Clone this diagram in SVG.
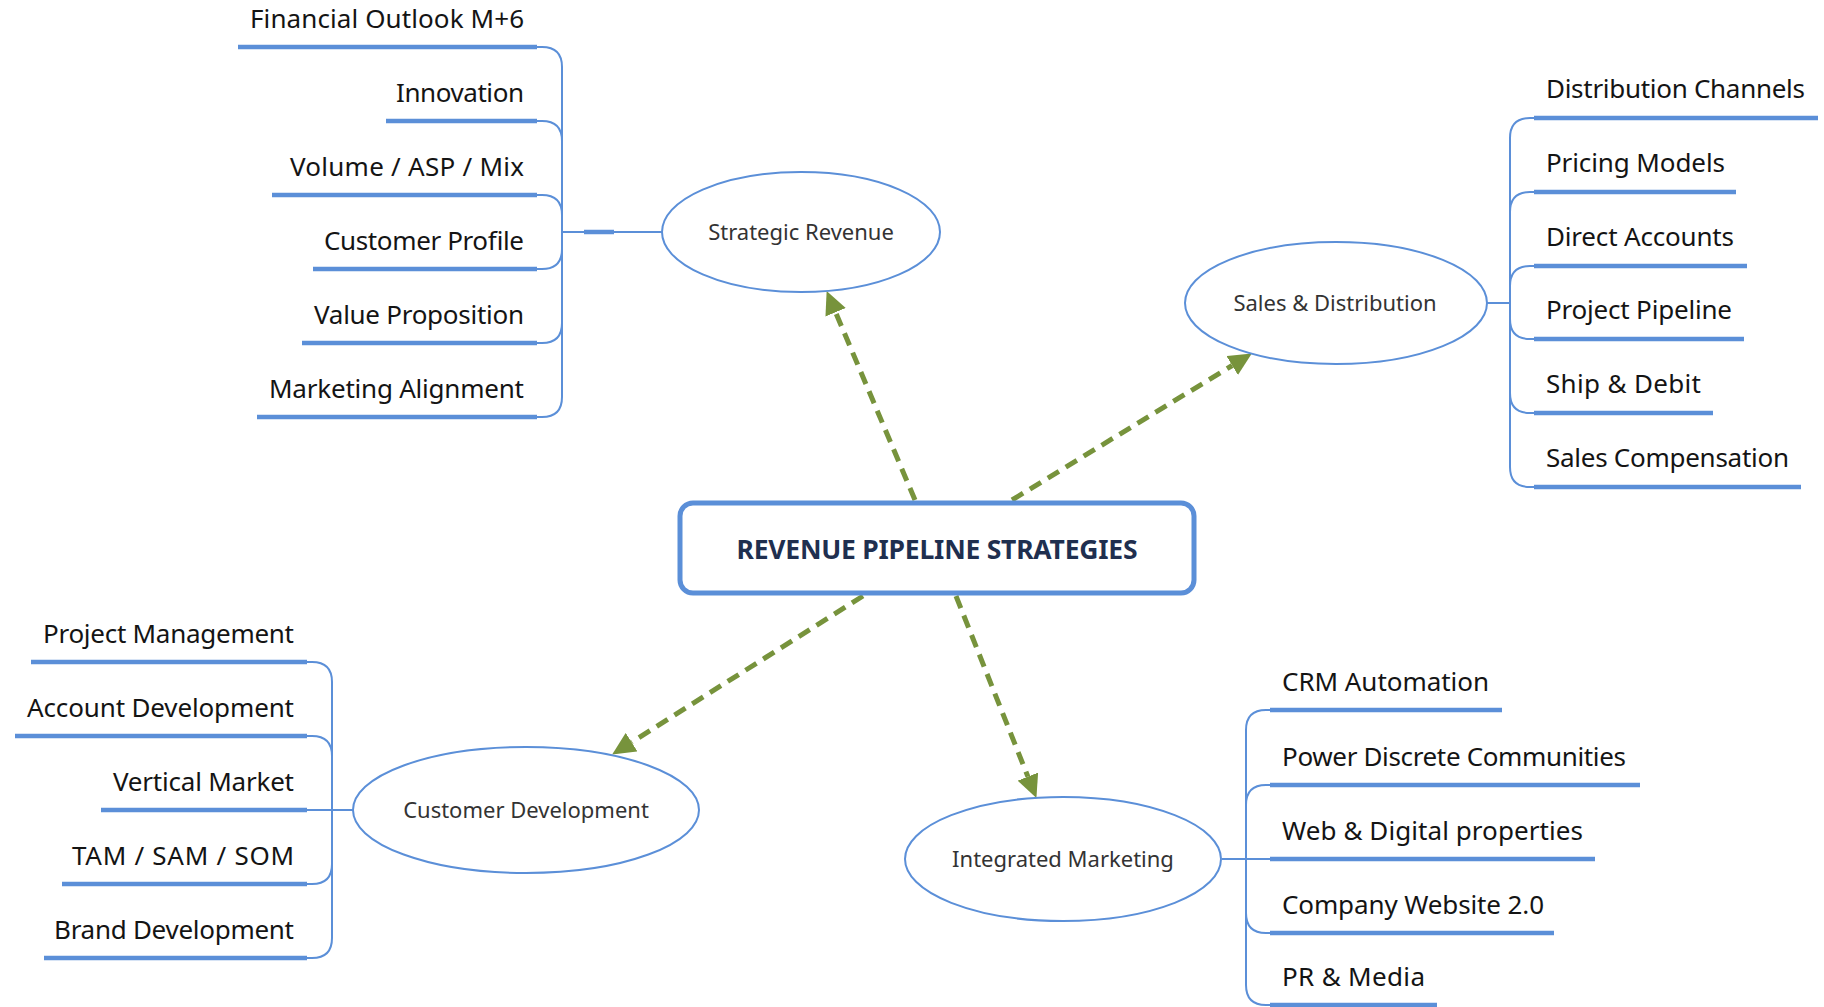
<svg xmlns="http://www.w3.org/2000/svg" width="1824" height="1007" viewBox="0 0 1824 1007">
<defs>
<style>
.leaf{font-family:"Noto Sans","Open Sans","Liberation Sans",sans-serif;font-size:26px;fill:#141414}
.r{text-anchor:end}
.etxt{font-family:"Noto Sans","Open Sans","Liberation Sans",sans-serif;font-size:22px;fill:#333333;text-anchor:middle}
.title{font-family:"Noto Sans","Open Sans","Liberation Sans",sans-serif;font-size:26.5px;font-weight:bold;fill:#1f2f4f;text-anchor:middle}
.ul{stroke:#5b8fd8;stroke-width:4.5;fill:none}
.br{stroke:#5b8fd8;stroke-width:2;fill:none}
.ell{fill:#ffffff;stroke:#5b8fd8;stroke-width:2}
.dash{stroke:#77933c;stroke-width:5;stroke-dasharray:13 8;fill:none}
</style>
<marker id="ah" markerUnits="userSpaceOnUse" markerWidth="24" markerHeight="22" refX="0" refY="11" orient="auto" viewBox="0 0 24 22">
<path d="M0,0 L23,11 L0,22 Z" fill="#77933c"/>
</marker>
</defs>
<rect width="1824" height="1007" fill="#ffffff"/>

<g id="connectors">
<path class="br" d="M537,47 H542 Q562,47 562,67 V232"/>
<path class="br" d="M537,121 H542 Q562,121 562,141 V232"/>
<path class="br" d="M537,195 H542 Q562,195 562,215 V232"/>
<path class="br" d="M537,269 H542 Q562,269 562,249 V232"/>
<path class="br" d="M537,343 H542 Q562,343 562,323 V232"/>
<path class="br" d="M537,417 H542 Q562,417 562,397 V232"/>
<path class="br" d="M562,232 H662"/>
<path class="ul" d="M584,232 H614"/>
<path class="br" d="M1534,118 H1530 Q1510,118 1510,138 V303"/>
<path class="br" d="M1534,192 H1530 Q1510,192 1510,212 V303"/>
<path class="br" d="M1534,266 H1530 Q1510,266 1510,286 V303"/>
<path class="br" d="M1534,339 H1530 Q1510,339 1510,319 V303"/>
<path class="br" d="M1534,413 H1530 Q1510,413 1510,393 V303"/>
<path class="br" d="M1534,487 H1530 Q1510,487 1510,467 V303"/>
<path class="br" d="M1487,303 H1510"/>
<path class="br" d="M307,662 H312 Q332,662 332,682 V810"/>
<path class="br" d="M307,736 H312 Q332,736 332,756 V810"/>
<path class="br" d="M307,884 H312 Q332,884 332,864 V810"/>
<path class="br" d="M307,958 H312 Q332,958 332,938 V810"/>
<path class="br" d="M307,810 H353"/>
<path class="br" d="M1270,710 H1266 Q1246,710 1246,730 V859"/>
<path class="br" d="M1270,785 H1266 Q1246,785 1246,805 V859"/>
<path class="br" d="M1270,933 H1266 Q1246,933 1246,913 V859"/>
<path class="br" d="M1270,1005 H1266 Q1246,1005 1246,985 V859"/>
<path class="br" d="M1222,859 H1270"/>
<path class="dash" marker-end="url(#ah)" d="M915,500 L835.6,312.3"/>
<path class="dash" marker-end="url(#ah)" d="M1012,500 L1232.2,365.5"/>
<path class="dash" marker-end="url(#ah)" d="M863,596 L631.6,742.2"/>
<path class="dash" marker-end="url(#ah)" d="M956,596 L1027.9,776.6"/>
</g>

<g id="center">
<rect x="680" y="503" width="514" height="90" rx="13" fill="#ffffff" stroke="#5b8fd8" stroke-width="5"/>
<text class="title" x="937" y="559" textLength="401">REVENUE PIPELINE STRATEGIES</text>
</g>

<g id="strategic-revenue">
<ellipse class="ell" cx="801" cy="232" rx="139" ry="60"/>
<text class="etxt" x="801" y="240">Strategic Revenue</text>
</g>
<g id="sr-items">
<path class="ul" d="M238,47 H537 M386,121 H537 M272,195 H537 M313,269 H537 M302,343 H537 M257,417 H537"/>
<text class="leaf r" x="524" y="28" textLength="274">Financial Outlook M+6</text>
<text class="leaf r" x="524" y="102" textLength="128">Innovation</text>
<text class="leaf r" x="524" y="176" textLength="234">Volume / ASP / Mix</text>
<text class="leaf r" x="524" y="250" textLength="200">Customer Profile</text>
<text class="leaf r" x="524" y="324" textLength="210">Value Proposition</text>
<text class="leaf r" x="524" y="398" textLength="255">Marketing Alignment</text>
</g>

<g id="sales-distribution">
<ellipse class="ell" cx="1336" cy="303" rx="151" ry="61"/>
<text class="etxt" x="1335" y="311">Sales &amp; Distribution</text>
</g>
<g id="sd-items">
<path class="ul" d="M1534,118 H1818 M1534,192 H1736 M1534,266 H1747 M1534,339 H1744 M1534,413 H1713 M1534,487 H1801"/>
<text class="leaf" x="1546" y="98" textLength="259">Distribution Channels</text>
<text class="leaf" x="1546" y="172" textLength="179">Pricing Models</text>
<text class="leaf" x="1546" y="246" textLength="188">Direct Accounts</text>
<text class="leaf" x="1546" y="319" textLength="186">Project Pipeline</text>
<text class="leaf" x="1546" y="393" textLength="155">Ship &amp; Debit</text>
<text class="leaf" x="1546" y="467" textLength="243">Sales Compensation</text>
</g>

<g id="customer-development">
<ellipse class="ell" cx="526" cy="810" rx="173" ry="63"/>
<text class="etxt" x="526" y="818">Customer Development</text>
</g>
<g id="cd-items">
<path class="ul" d="M31,662 H307 M15,736 H307 M101,810 H307 M62,884 H307 M44,958 H307"/>
<text class="leaf r" x="294" y="643" textLength="251">Project Management</text>
<text class="leaf r" x="294" y="717" textLength="267">Account Development</text>
<text class="leaf r" x="294" y="791" textLength="181">Vertical Market</text>
<text class="leaf r" x="294" y="865" textLength="222">TAM / SAM / SOM</text>
<text class="leaf r" x="294" y="939" textLength="240">Brand Development</text>
</g>

<g id="integrated-marketing">
<ellipse class="ell" cx="1063" cy="859" rx="158" ry="62"/>
<text class="etxt" x="1063" y="867">Integrated Marketing</text>
</g>
<g id="im-items">
<path class="ul" d="M1270,710 H1502 M1270,785 H1640 M1270,859 H1595 M1270,933 H1554 M1270,1005 H1437"/>
<text class="leaf" x="1282" y="691" textLength="207">CRM Automation</text>
<text class="leaf" x="1282" y="766" textLength="344">Power Discrete Communities</text>
<text class="leaf" x="1282" y="840" textLength="301">Web &amp; Digital properties</text>
<text class="leaf" x="1282" y="914" textLength="262">Company Website 2.0</text>
<text class="leaf" x="1282" y="986" textLength="143">PR &amp; Media</text>
</g>
</svg>
